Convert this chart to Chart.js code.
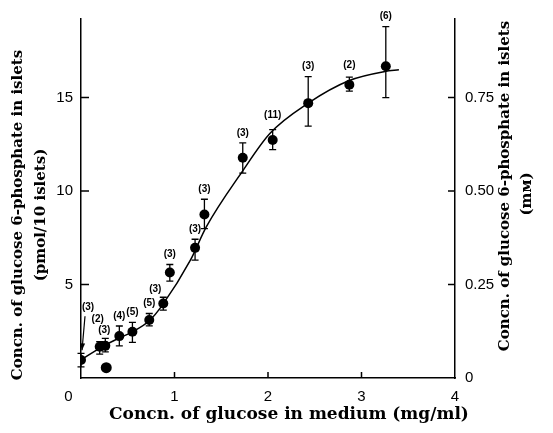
<!DOCTYPE html>
<html><head><meta charset="utf-8">
<script src="https://cdn.jsdelivr.net/npm/chart.js@4.4.1/dist/chart.umd.min.js"></script>
<style>html,body{margin:0;padding:0;background:#fff;}#wrap{width:553px;height:433px;position:relative;}</style>
</head><body><div id="wrap"><canvas id="c" width="553" height="433"></canvas></div>
<script>
const glucose = [0.00,0.20,0.26,0.41,0.55,0.73,0.88,0.95,1.22,1.32,1.73,2.05,2.43,2.87,3.26];
const g6p = [0.96,1.67,1.72,2.24,2.47,3.10,3.98,5.64,6.96,8.74,11.78,12.73,14.70,15.68,16.67];
const barTop = [1.32,1.94,2.12,2.78,2.97,3.45,4.32,6.07,7.42,9.56,12.58,13.28,16.12,16.09,18.79];
const barBottom = [0.60,1.28,1.40,1.72,1.91,2.79,3.63,5.18,6.30,7.99,10.96,12.21,13.47,15.34,14.99];
const nLabels = ['(3)','(2)','(3)','(4)','(5)','(5)','(3)','(3)','(3)','(3)','(3)','(11)','(3)','(2)','(6)'];
const extraGlucose = [0.27];
const extraG6p = [0.55];
const curveGlucose = [0.00,0.20,0.41,0.55,0.73,0.87,1.17,1.34,1.72,2.02,2.43,2.87,3.25,3.40];
const curveG6p = [0.96,1.60,2.14,2.47,3.06,3.90,6.30,8.08,11.01,13.08,14.70,15.91,16.39,16.48];
const xTickValues = [0,1,2,3,4];
const leftTickValues = [0,5,10,15];
const rightTickValues = [0,0.25,0.5,0.75];
const xTitle = 'Concn. of glucose in medium (mg/ml)';
const leftTitle = ['Concn. of glucose 6-phosphate in islets','(pmol/10 islets)'];
const rightTitle = ['Concn. of glucose 6-phosphate in islets','(m\u1D0D)'];

const TITLE_FONT = 'bold 15px "DejaVu Serif"';
const X_TITLE_FONT = 'bold 17px "DejaVu Serif"';
const TICK_FONT = {family:'"Liberation Sans", "DejaVu Sans", sans-serif', size:15};

const labelOffsets = {0:[7,-46],1:[-2,-22],2:[-1,-8],6:[-8,-8],11:[0,-14],13:[0,-12]};

const decor = {
  id:'decor',
  beforeDatasetsDraw(chart){
    const {ctx, scales:{x,y}} = chart;
    ctx.save();
    ctx.strokeStyle='#000'; ctx.lineWidth=1.3;
    glucose.forEach((gx,i)=>{
      const px = x.getPixelForValue(gx);
      const t = y.getPixelForValue(barTop[i]);
      const b = y.getPixelForValue(barBottom[i]);
      ctx.beginPath();
      ctx.moveTo(px,t); ctx.lineTo(px,b);
      ctx.moveTo(px-3.5,t); ctx.lineTo(px+3.5,t);
      ctx.moveTo(px-3.5,b); ctx.lineTo(px+3.5,b);
      ctx.stroke();
    });
    ctx.restore();
  },
  afterDraw(chart){
    const {ctx, chartArea:ca, scales:{x,y,y2}} = chart;
    ctx.save();
    ctx.strokeStyle='#000'; ctx.fillStyle='#000'; ctx.lineWidth=1.5;
    // inward tick marks
    ctx.beginPath();
    xTickValues.filter(v=>v>0&&v<4).forEach(v=>{const p=x.getPixelForValue(v); ctx.moveTo(p,ca.bottom); ctx.lineTo(p,ca.bottom-6);});
    leftTickValues.filter(v=>v>0).forEach(v=>{const p=y.getPixelForValue(v); ctx.moveTo(ca.left,p); ctx.lineTo(ca.left+8,p);});
    rightTickValues.filter(v=>v>0).forEach(v=>{const p=y2.getPixelForValue(v); ctx.moveTo(ca.right,p); ctx.lineTo(ca.right-7,p);});
    ctx.stroke();
    // n labels
    ctx.font = 'bold 10px "Liberation Sans", sans-serif';
    ctx.textAlign='center'; ctx.textBaseline='middle';
    glucose.forEach((gx,i)=>{
      const px = x.getPixelForValue(gx);
      const t = y.getPixelForValue(barTop[i]);
      const off = labelOffsets[i] || [0,-10];
      ctx.fillText(nLabels[i], px+off[0], t+off[1]);
      if(i===0){
        const x1=px+4, y1=t-37, x2=px+1, y2p=t-3;
        ctx.lineWidth=1.2;
        ctx.beginPath(); ctx.moveTo(x1,y1); ctx.lineTo(x2,y2p); ctx.stroke();
        const ang=Math.atan2(y2p-y1,x2-x1);
        ctx.beginPath();
        ctx.moveTo(x2,y2p);
        ctx.lineTo(x2-7*Math.cos(ang)+2.5*Math.sin(ang), y2p-7*Math.sin(ang)-2.5*Math.cos(ang));
        ctx.lineTo(x2-7*Math.cos(ang)-2.5*Math.sin(ang), y2p-7*Math.sin(ang)+2.5*Math.cos(ang));
        ctx.closePath(); ctx.fill();
      }
    });
    // titles
    ctx.textAlign='center'; ctx.textBaseline='middle';
    ctx.font = X_TITLE_FONT;
    ctx.fillText(xTitle, 289, 415);
    ctx.font = TITLE_FONT;
    ctx.save(); ctx.translate(18,215); ctx.rotate(-Math.PI/2); ctx.fillText(leftTitle[0],0,0); ctx.restore();
    ctx.save(); ctx.translate(41,215); ctx.rotate(-Math.PI/2); ctx.fillText(leftTitle[1],0,0); ctx.restore();
    ctx.save(); ctx.translate(505,186); ctx.rotate(-Math.PI/2); ctx.fillText(rightTitle[0],0,0); ctx.restore();
    ctx.save(); ctx.translate(527,194); ctx.rotate(-Math.PI/2); ctx.fillText(rightTitle[1],0,0); ctx.restore();
    ctx.restore();
  }
};

new Chart(document.getElementById('c'), {
  type:'scatter',
  data:{
    datasets:[
      {label:'fit', data: curveGlucose.map((v,i)=>({x:v,y:curveG6p[i]})), showLine:true, pointRadius:0,
       borderColor:'#000', borderWidth:1.5, cubicInterpolationMode:'monotone', yAxisID:'y'},
      {label:'mean', data: glucose.map((v,i)=>({x:v,y:g6p[i]})), pointRadius:5, pointBackgroundColor:'#000',
       pointBorderColor:'#000', pointBorderWidth:0, showLine:false, yAxisID:'y'},
      {label:'extra', data: extraGlucose.map((v,i)=>({x:v,y:extraG6p[i]})), pointRadius:5.5, pointBackgroundColor:'#000',
       pointBorderColor:'#000', pointBorderWidth:0, showLine:false, yAxisID:'y'}
    ]
  },
  options:{
    responsive:false, animation:false,
    layout:{padding:{top:19,left:0,right:0,bottom:0}},
    plugins:{legend:{display:false}, tooltip:{enabled:false}},
    scales:{
      x:{type:'linear', position:'bottom', min:0, max:4,
         afterFit(s){s.height=55;},
         afterBuildTicks(s){s.ticks = xTickValues.map(v=>({value:v}));},
         grid:{display:false, drawTicks:false},
         border:{display:true, color:'#000', width:1.5},
         ticks:{padding:10, color:'#000', font:TICK_FONT, maxRotation:0,
           callback:(v)=> v===0 ? '0\u00a0\u00a0\u00a0\u00a0\u00a0\u00a0' : String(v)}},
      y:{type:'linear', position:'left', min:0, max:19.2,
         afterFit(s){s.width=81;},
         afterBuildTicks(s){s.ticks = leftTickValues.map(v=>({value:v}));},
         grid:{display:false, drawTicks:false},
         border:{display:true, color:'#000', width:1.5},
         ticks:{padding:8, color:'#000', font:TICK_FONT, callback:(v)=> v===0 ? '' : String(v)}},
      y2:{type:'linear', position:'right', min:0, max:0.96,
         afterFit(s){s.width=98;},
         afterBuildTicks(s){s.ticks = rightTickValues.map(v=>({value:v}));},
         grid:{display:false, drawTicks:false},
         border:{display:true, color:'#000', width:1.5},
         ticks:{padding:10, color:'#000', font:TICK_FONT, callback:(v)=> v===0 ? '0' : v.toFixed(2)}}
    }
  },
  plugins:[decor]
});
</script></body></html>
